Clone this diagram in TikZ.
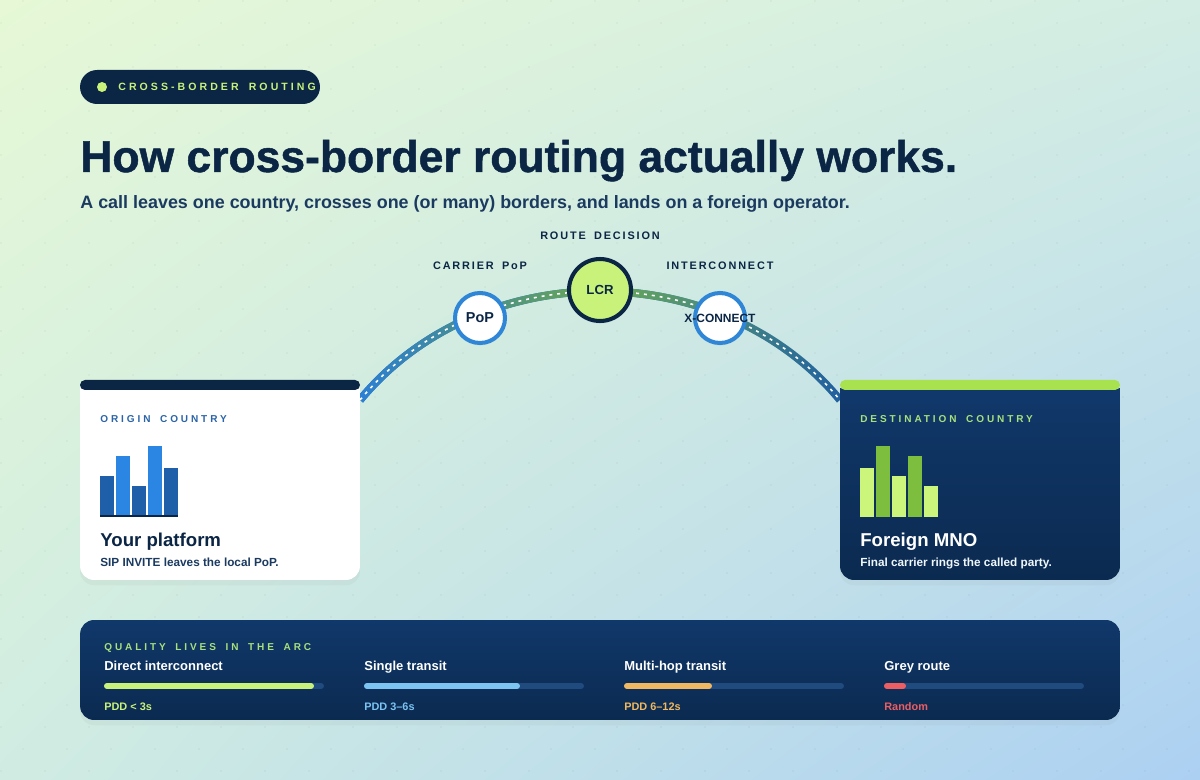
\documentclass[tikz,border=0pt]{standalone}
\usepackage{fontspec}
\setmainfont{Liberation Sans}
\newfontfamily\heavyfont[FakeBold=1.1]{Liberation Sans Bold}
\newfontfamily\trackfont[LetterSpace=17, WordSpace=1.7]{Liberation Sans}
\newfontfamily\widefont[LetterSpace=29, WordSpace=1.7]{Liberation Sans}
\usepackage{tikz}
\usetikzlibrary{positioning, calc, fadings, shadings, shadows}
\definecolor{navy}{HTML}{0B2545}
\definecolor{inknavy}{HTML}{1B3A60}
\definecolor{lime}{HTML}{C8F27A}
\definecolor{limebar}{HTML}{A9E24F}
\definecolor{hopblue}{HTML}{2F86D6}
\definecolor{arcblueL}{HTML}{2B80D8}
\definecolor{arcblueR}{HTML}{1F5FA0}
\definecolor{arcgreen}{HTML}{6CAA52}
\definecolor{bardark}{HTML}{1F5FAA}
\definecolor{barbright}{HTML}{2A86E2}
\definecolor{barlime}{HTML}{CCF57C}
\definecolor{bargreen}{HTML}{7DBE3E}
\definecolor{cardtop}{HTML}{10386A}
\definecolor{cardbottom}{HTML}{0B2A50}
\definecolor{track}{HTML}{1F4B7E}
\definecolor{pddblue}{HTML}{7CC4F2}
\definecolor{pddorange}{HTML}{F0B860}
\definecolor{pddred}{HTML}{EC5E62}
\definecolor{labelgreen}{HTML}{A8E07C}
\definecolor{origblue}{HTML}{2A64A8}
\definecolor{bgtl}{HTML}{E6F8D6}
\definecolor{bgtr}{HTML}{D3EDE4}
\definecolor{bgbl}{HTML}{D0ECE2}
\definecolor{bgbr}{HTML}{ACD0F2}
\tikzfading[name=fadeleft, left color=transparent!0, right color=transparent!100]
\tikzfading[name=fademid, left color=transparent!100, right color=transparent!100, middle color=transparent!0]
\tikzset{
	textnode/.style={
			anchor=base west,
			inner sep=0pt
		},
	hopnode/.style={
			circle,
			draw=hopblue,
			line width=2.3pt,
			fill=white,
			minimum size=1cm,
			inner sep=0pt,
			drop shadow={shadow xshift=0pt, shadow yshift=-1.5pt, opacity=0.12}
		},
	lcrnode/.style={
			hopnode,
			draw=navy,
			fill=lime,
			minimum size=1.24cm
		},
	hoptext/.style={
			inner sep=0pt,
			text=navy,
			font=\bfseries\fontsize{8.2pt}{8.2pt}\selectfont
		},
	hoplabel/.style={
			inner sep=0pt,
			anchor=base,
			text=navy,
			font=\trackfont\bfseries\fontsize{6.2pt}{6.2pt}\selectfont
		},
	cardbox/.style={
			rectangle,
			rounded corners=0.28cm,
			minimum width=5.6cm,
			minimum height=3.84cm,
			inner sep=0pt,
			drop shadow={shadow xshift=0pt, shadow yshift=-3pt, opacity=0.07}
		},
	cardlabel/.style={
			textnode,
			font=\widefont\bfseries\fontsize{5.7pt}{5.7pt}\selectfont
		},
	cardtitle/.style={
			textnode,
			font=\bfseries\fontsize{10.6pt}{10.6pt}\selectfont
		},
	cardnote/.style={
			textnode,
			font=\bfseries\fontsize{6.7pt}{6.7pt}\selectfont
		},
	arcline/.style={
			line width=4.5pt,
			line cap=butt
		},
	arcdash/.style={
			draw=white,
			line width=0.9pt,
			dash pattern=on 1.7pt off 2.8pt
		},
	trackline/.style={
			draw=track,
			line width=3.4pt,
			line cap=round
		},
	metricname/.style={
			textnode,
			text=white,
			font=\bfseries\fontsize{7.4pt}{7.4pt}\selectfont
		},
	metricpdd/.style={
			textnode,
			font=\bfseries\fontsize{6.2pt}{6.2pt}\selectfont
		}
}

\begin{document}
\begin{tikzpicture}[x=0.02cm, y=-0.02cm]
	\useasboundingbox (0,0) rectangle (1200,780);
	\shade[upper left=bgtl, upper right=bgtr, lower left=bgbl, lower right=bgbr] (0,0) rectangle (1200,780);
	\foreach \i in {0,...,54}
		\foreach \j in {0,...,35} {
			\pgfmathtruncatemacro{\odd}{mod(\i+\j,2)}
			\ifnum\odd=1 \fill[black, opacity=0.06] (22*\i+1,22*\j+1) circle (0.55pt);\fi
		}

	\node[rectangle, fill=navy, rounded corners=0.34cm, minimum width=4.8cm, minimum height=0.68cm] (tag) at (200,87) {};
	\node[circle, fill=lime, minimum size=0.2cm, inner sep=0pt] (tagdot) at (102,87) {};
	\node[cardlabel, text=lime, font=\widefont\bfseries\fontsize{6pt}{6pt}\selectfont] (tagtext) at (118,91) {CROSS-BORDER ROUTING};

	\node[textnode, text=navy, font=\heavyfont\fontsize{25.3pt}{25.3pt}\selectfont] (title) at (80,172) {How cross-border routing actually works.};
	\node[textnode, text=inknavy, font=\bfseries\fontsize{10.2pt}{10.2pt}\selectfont] (subtitle) at (80,209) {A call leaves one country, crosses one (or many) borders, and lands on a foreign operator.};

	\node[hoplabel] (routelabel) at (600,240) {ROUTE DECISION};
	\node[hoplabel] (poplabel) at (480,270) {CARRIER PoP};
	\node[hoplabel] (xclabel) at (720,270) {INTERCONNECT};

	\coordinate (arcL) at (360,400);
	\coordinate (arcR) at (840,400);
	\draw[arcline, draw=arcblueR] (arcL) .. controls (480,255) and (720,255) .. (arcR);
	\draw[arcline, draw=arcblueL, path fading=fadeleft] (arcL) .. controls (480,255) and (720,255) .. (arcR);
	\draw[arcline, draw=arcgreen, path fading=fademid] (arcL) .. controls (480,255) and (720,255) .. (arcR);
	\draw[arcdash] (arcL) .. controls (480,255) and (720,255) .. (arcR);

	\node[hopnode] (pop) at (480,318) {};
	\node[hoptext] (poptext) at (pop) {PoP};
	\node[lcrnode] (lcr) at (600,290) {};
	\node[hoptext, font=\bfseries\fontsize{7.5pt}{7.5pt}\selectfont] (lcrtext) at (lcr) {LCR};
	\node[hopnode] (xconnect) at (720,318) {};
	\node[hoptext, font=\bfseries\fontsize{6.8pt}{6.8pt}\selectfont] (xctext) at (xconnect) {X-CONNECT};

	\node[cardbox, fill=white] (origin) at (220,484) {};
	\fill[white] (origin.north west) rectangle ++(280,16);
	\fill[navy, rounded corners=0.1cm] (80,380) rectangle (360,390);
	\node[cardlabel, text=origblue] (originlabel) at (100,422) {ORIGIN COUNTRY};
	\foreach \x/\top/\col in {100/476/bardark, 116/456/barbright, 132/486/bardark, 148/446/barbright, 164/468/bardark}
		\fill[\col] (\x,\top) rectangle (\x+14,515);
	\draw[navy, line width=1.2pt] (100,516) -- (178,516);
	\node[cardtitle, text=navy] (origintitle) at (100,546) {Your platform};
	\node[cardnote, text=inknavy] (originnote) at (100,566) {SIP INVITE leaves the local PoP.};

	\node[cardbox, top color=cardtop, bottom color=cardbottom] (dest) at (980,484) {};
	\fill[cardtop] (dest.north west) rectangle ++(280,16);
	\fill[limebar, rounded corners=0.1cm] (840,380) rectangle (1120,390);
	\node[cardlabel, text=labelgreen] (destlabel) at (860,422) {DESTINATION COUNTRY};
	\foreach \x/\top/\col in {860/468/barlime, 876/446/bargreen, 892/476/barlime, 908/456/bargreen, 924/486/barlime}
		\fill[\col] (\x,\top) rectangle (\x+14,517);
	\node[cardtitle, text=white] (desttitle) at (860,546) {Foreign MNO};
	\node[cardnote, text=white!88!pddblue] (destnote) at (860,566) {Final carrier rings the called party.};

	\node[cardbox, top color=cardtop, bottom color=cardbottom, minimum width=20.8cm, minimum height=2cm] (quality) at (600,670) {};
	\node[cardlabel, text=labelgreen] (qualitylabel) at (104,650) {QUALITY LIVES IN THE ARC};
	\foreach \x/\name/\len/\fillto/\col/\pdd [count=\i] in {104/Direct interconnect/220/314/lime/PDD < 3s, 364/Single transit/220/520/pddblue/PDD 3–6s, 624/Multi-hop transit/220/712/pddorange/PDD 6–12s, 884/Grey route/200/906/pddred/Random} {
		\node[metricname] (name\i) at (\x,670) {\name};
		\draw[trackline] (\x+3,686) -- (\x+\len-3,686);
		\draw[trackline, draw=\col] (\x+3,686) -- (\fillto-3,686);
		\node[metricpdd, text=\col] (pdd\i) at (\x,710) {\pdd};
	}
\end{tikzpicture}
\end{document}
